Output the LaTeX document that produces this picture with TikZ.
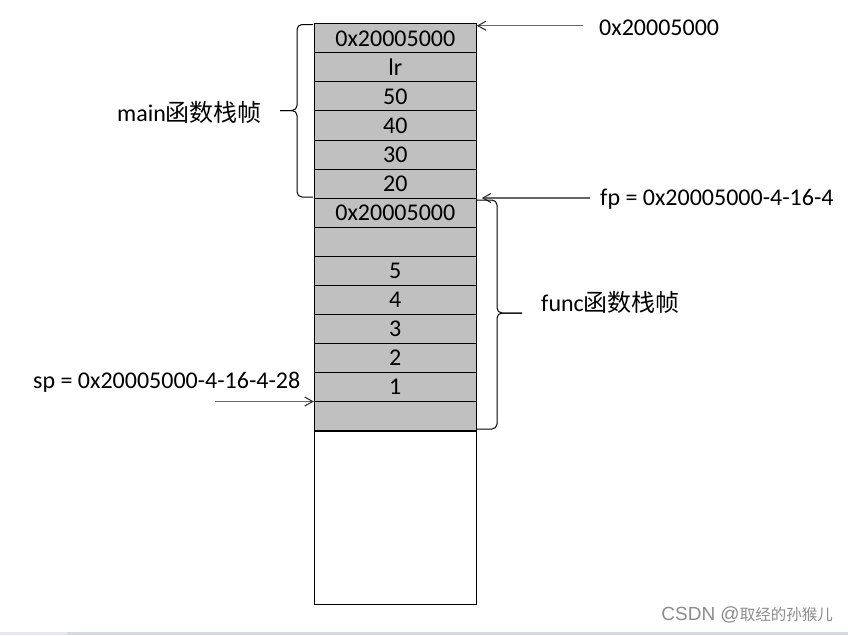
\documentclass[tikz,border=0pt]{standalone}
\usepackage{fontspec}
\setmainfont{Carlito}
\newfontfamily\cjk{Noto Sans CJK SC}
\newfontfamily\wmfont{Liberation Sans}
\usetikzlibrary{arrows.meta}
\definecolor{cellgray}{RGB}{192,192,192}
\definecolor{stripA}{RGB}{232,232,236}
\definecolor{stripB}{RGB}{214,217,222}
\begin{document}
\begin{tikzpicture}[x=1pt,y=-1pt,
  cell/.style={draw=black, fill=cellgray, line width=1pt, minimum width=162pt,
    minimum height=29.05pt, inner sep=0pt, font=\fontsize{24}{26}\selectfont, anchor=north},
  lab/.style={font=\fontsize{24}{26}\selectfont, inner sep=0pt, anchor=west},
  ptr/.style={draw=black!60, line width=1.1pt, -{Straight Barb[length=8pt,width=9pt,black!80]}},
  bracestyle/.style={draw=black, line width=1pt, rounded corners=5pt}]
\useasboundingbox (0,0) rectangle (848,635);
\fill[white] (0,0) rectangle (848,635);
\fill[stripA] (0,632.3) rectangle (67,635);
\fill[stripB] (67,632.3) rectangle (848,635);
% stack cells
\foreach \t [count=\i from 0] in {0x20005000,lr,50,40,30,20,0x20005000,{},5,4,3,2,1,{}}
  \node[cell] (r\i) at (395.3, {23.3+29.05*\i}) {\t};
\node[draw=black, line width=1pt, minimum width=162pt, minimum height=173pt,
  inner sep=0pt, anchor=north] (free) at (r13.south) {};
% pointer labels
\node[lab] (topl) at (599,28) {0x20005000};
\node[lab] (fpl) at (600,199) {fp = 0x20005000-4-16-4};
\node[lab] (spl) at (33,382.5) {sp = 0x20005000-4-16-4-28};
\coordinate (topTail) at (583,25.7);
\coordinate (fpTail) at (590,198);
\coordinate (spTail) at (215,401.5);
\draw[ptr] (topTail) -- (topTail -| r0.east);
\draw[ptr] (fpTail) -- ([xshift=5pt]fpTail -| r6.east);
\draw[ptr] (spTail) -- (spTail -| r13.west);
% braces
\coordinate (mainTip) at (280,110.5);
\coordinate (funcTip) at (522,313);
\draw[bracestyle] (313,24.5) -- (297,24.5) -- (297,110.5) -- (mainTip);
\draw[bracestyle] (mainTip) -- (297,110.5) -- (297,197) -- (313,197);
\draw[bracestyle] (476,200) -- (497,200) -- (497,313) -- (funcTip);
\draw[bracestyle] (funcTip) -- (497,313) -- (497,429) -- (476,429);
\node[lab] (mainl) at (117,112) {main{\cjk 函数栈帧}};
\node[lab] (funcl) at (541,302) {func{\cjk 函数栈帧}};
% watermark
\node[inner sep=0pt, anchor=east, text=black!45] (wm) at (833,615)
  {{\wmfont\fontsize{19}{21}\selectfont CSDN @}{\cjk\fontsize{15.5}{18}\selectfont 取经的孙猴儿}};
\end{tikzpicture}
\end{document}
